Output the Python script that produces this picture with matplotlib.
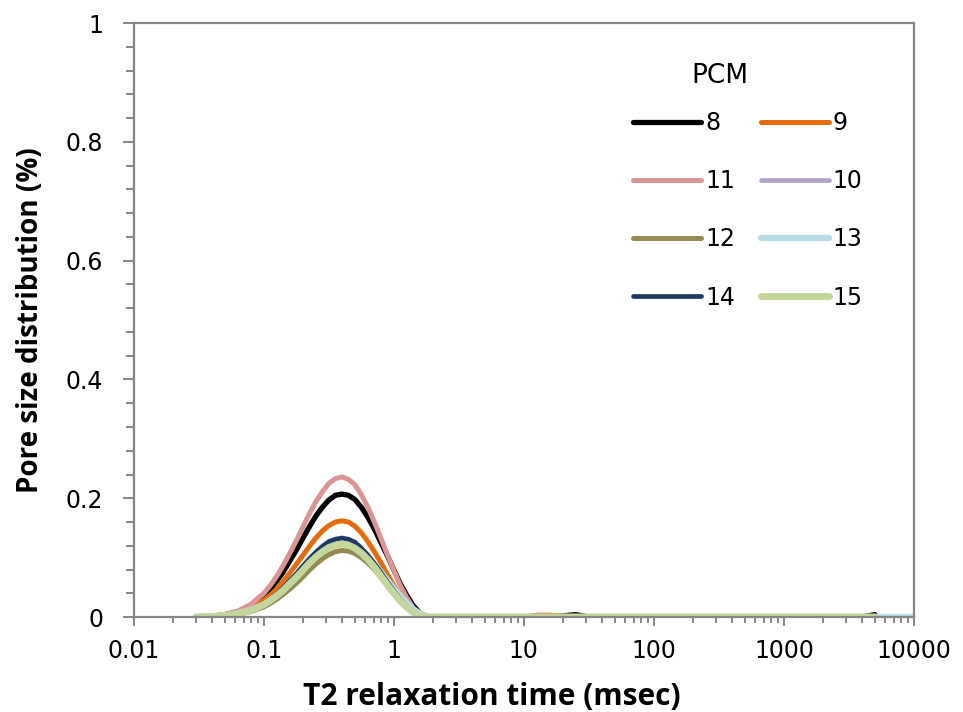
import matplotlib

matplotlib.use("Agg")
import matplotlib.pyplot as plt
from matplotlib.ticker import FuncFormatter, LogLocator, MultipleLocator, NullFormatter

# T2 relaxation time grid (msec): start, peak region, long flat tail
t2_start = [0.03, 0.04, 0.05, 0.063, 0.079]
t2_peak = [0.1, 0.112, 0.126, 0.141, 0.158, 0.178, 0.2, 0.224, 0.251, 0.282, 0.316, 0.355,
           0.398, 0.447, 0.501, 0.562, 0.631, 0.708, 0.794, 0.891, 1.0, 1.12, 1.26, 1.41,
           1.58, 1.78, 2.0]
t2_tail = [2.51, 5.01, 10.0, 12.6, 15.8, 25.1, 31.6, 100, 1000, 3980, 5010]
t2 = t2_start + t2_peak + t2_tail
t2_long = t2 + [10000]

x_ticks = [0.01, 0.1, 1, 10, 100, 1000, 10000]

zero_tail = [0, 0, 0, 0, 0, 0, 0, 0, 0, 0, 0]

pcm_8 = [0, 0.0014, 0.0038, 0.009, 0.018,
         0.035, 0.047, 0.061, 0.076, 0.094, 0.113, 0.133, 0.152, 0.170, 0.185, 0.197, 0.205,
         0.207, 0.205, 0.198, 0.185, 0.168, 0.148, 0.126, 0.103, 0.079, 0.056, 0.036, 0.019,
         0.007, 0.001, 0,
         0, 0, 0, 0, 0, 0.004, 0, 0, 0, 0, 0.004]
pcm_9 = [0, 0.0012, 0.003, 0.007, 0.015,
         0.028, 0.037, 0.047, 0.060, 0.074, 0.089, 0.104, 0.119, 0.133, 0.145, 0.154, 0.160,
         0.162, 0.160, 0.153, 0.142, 0.127, 0.110, 0.092, 0.072, 0.053, 0.036, 0.022, 0.011,
         0.003, 0, 0,
         0, 0, 0, 0.003, 0.003, 0, 0, 0, 0, 0, 0]
pcm_11 = [0, 0.0017, 0.0045, 0.010, 0.021,
          0.040, 0.053, 0.069, 0.087, 0.107, 0.129, 0.152, 0.174, 0.194, 0.211, 0.225, 0.233,
          0.236, 0.232, 0.223, 0.206, 0.185, 0.160, 0.133, 0.105, 0.078, 0.053, 0.032, 0.015,
          0.005, 0, 0] + zero_tail
pcm_10 = [0, 0.001, 0.0024, 0.006, 0.012,
          0.022, 0.029, 0.038, 0.048, 0.059, 0.071, 0.083, 0.095, 0.106, 0.115, 0.123, 0.127,
          0.129, 0.127, 0.122, 0.113, 0.101, 0.088, 0.073, 0.058, 0.043, 0.029, 0.017, 0.008,
          0.003, 0, 0] + zero_tail
pcm_12 = [0, 0.0006, 0.0016, 0.004, 0.009,
          0.017, 0.023, 0.030, 0.038, 0.047, 0.057, 0.068, 0.079, 0.089, 0.098, 0.105, 0.110,
          0.112, 0.111, 0.107, 0.100, 0.091, 0.080, 0.067, 0.054, 0.041, 0.028, 0.017, 0.009,
          0.003, 0, 0] + zero_tail
pcm_13 = [0, 0.001, 0.0024, 0.006, 0.012,
          0.021, 0.028, 0.037, 0.046, 0.057, 0.069, 0.081, 0.093, 0.103, 0.113, 0.120, 0.124,
          0.126, 0.125, 0.120, 0.112, 0.101, 0.089, 0.076, 0.062, 0.048, 0.035, 0.023, 0.013,
          0.006, 0.001, 0] + zero_tail + [0]
pcm_14 = [0, 0.001, 0.0025, 0.006, 0.012,
          0.023, 0.030, 0.039, 0.049, 0.061, 0.073, 0.086, 0.098, 0.109, 0.119, 0.127, 0.131,
          0.133, 0.131, 0.126, 0.116, 0.104, 0.090, 0.075, 0.059, 0.044, 0.030, 0.018, 0.009,
          0.003, 0, 0] + zero_tail
pcm_15 = [0, 0.001, 0.0023, 0.0055, 0.011,
          0.021, 0.028, 0.036, 0.045, 0.056, 0.067, 0.079, 0.091, 0.101, 0.110, 0.117, 0.121,
          0.123, 0.121, 0.116, 0.108, 0.097, 0.084, 0.069, 0.054, 0.040, 0.027, 0.016, 0.008,
          0.002, 0, 0] + zero_tail

# label, x, y, colour, width (pt); plotted in this order
series = [
    ("8", t2, pcm_8, "#000000", 3.8),
    ("9", t2, pcm_9, "#E46C0A", 3.6),
    ("11", t2, pcm_11, "#D99694", 3.6),
    ("10", t2, pcm_10, "#B3A2C7", 3.4),
    ("12", t2, pcm_12, "#948A54", 3.6),
    ("13", t2_long, pcm_13, "#B7DEE8", 4.6),
    ("14", t2, pcm_14, "#1F3864", 3.4),
    ("15", t2, pcm_15, "#C3D69B", 5.0),
]
legend_order = ["8", "11", "12", "14", "9", "10", "13", "15"]

fig = plt.figure(figsize=(9.63, 7.12), dpi=100)
ax = fig.add_axes([0.139, 0.1334, 0.810, 0.834])

handles = {}
for label, x, y, color, lw in series:
    (line,) = ax.plot(x, y, color=color, lw=lw, solid_capstyle="round",
                      solid_joinstyle="round", label=label)
    handles[label] = line

ax.set_xscale("log")
ax.set_xlim(0.01, 10000)
ax.set_ylim(0, 1)

grey = "#868686"
for spine in ax.spines.values():
    spine.set_color(grey)
    spine.set_linewidth(1.6)

ax.yaxis.set_major_locator(MultipleLocator(0.2))
ax.yaxis.set_minor_locator(MultipleLocator(0.04))
ax.set_xticks(x_ticks)
ax.xaxis.set_minor_locator(LogLocator(base=10, subs=range(2, 10), numticks=20))
fmt = FuncFormatter(lambda v, _: f"{v:g}")
ax.xaxis.set_major_formatter(fmt)
ax.xaxis.set_minor_formatter(NullFormatter())
ax.yaxis.set_major_formatter(fmt)
ax.set_xlim(0.01, 10000)
ax.set_ylim(0, 1)

ax.tick_params(axis="y", which="major", direction="out", length=8, width=1.4, color=grey,
               labelsize=17, pad=14)
ax.tick_params(axis="y", which="minor", direction="out", length=6, width=1.4, color=grey)
ax.tick_params(axis="x", which="major", direction="out", length=6.5, width=1.4, color=grey,
               labelsize=17, pad=9)
ax.tick_params(axis="x", which="minor", direction="out", length=4, width=1.4, color=grey)

ax.set_xlabel("T2 relaxation time (msec)", family="Open Sans", fontweight="bold",
              fontsize=21.5, labelpad=14)
ax.xaxis.label.set_x(0.459)
ax.set_ylabel("Pore size distribution (%)", family="Open Sans", fontweight="bold",
              fontsize=20, labelpad=15)

leg = ax.legend(
    [handles[k] for k in legend_order],
    legend_order,
    ncol=2,
    frameon=False,
    fontsize=17,
    handlelength=2.9,
    handletextpad=0.15,
    columnspacing=1.1,
    labelspacing=1.45,
    borderpad=0,
    borderaxespad=0,
    loc="upper left",
    bbox_to_anchor=(633 / 963, 1 - 111 / 712),
    bbox_transform=fig.transFigure,
)
fig.text(720 / 963, 1 - 76 / 712, "PCM", fontsize=19, ha="center", va="center")

fig.savefig("out.png", dpi=100)
